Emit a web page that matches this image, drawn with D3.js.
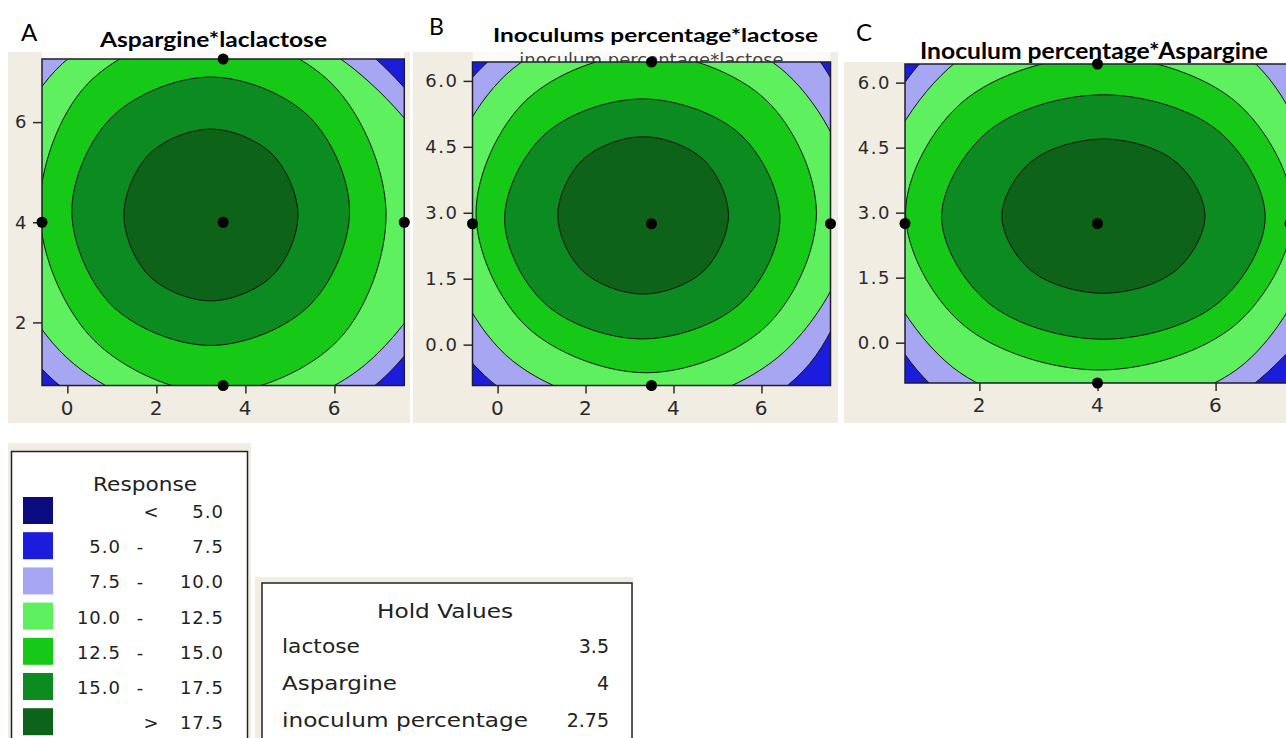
<!DOCTYPE html>
<html>
<head>
<meta charset="utf-8">
<script src="https://cdn.jsdelivr.net/npm/d3@7"></script>
<style>
  html, body { margin: 0; padding: 0; background: #ffffff; }
  svg { display: block; }
</style>
</head>
<body>
<svg id="chart" width="1286" height="738"></svg>
<script>
// ---- Response bands ----
const bandColors = ["#0b0b80", "#1c1cdc", "#a6a6f2", "#5ef05e", "#17c917", "#0c8c20", "#0d6418"];
const legendRows = [["", "<", "5.0"], ["5.0", "-", "7.5"], ["7.5", "-", "10.0"], ["10.0", "-", "12.5"],
                    ["12.5", "-", "15.0"], ["15.0", "-", "17.5"], ["", ">", "17.5"]];
const contourLevels = [7.5, 10.0, 12.5, 15.0, 17.5];

// ---- Hold values ----
const holdNames = ["lactose", "Aspargine", "inoculum percentage"];
const holdValues = ["3.5", "4", "2.75"];

// ---- Panel A: Aspargine (y) vs lactose (x) ----
const xDomainA = [-0.57, 7.57];
const yDomainA = [0.74, 7.26];
const xTicksA = [0, 2, 4, 6];
const yTicksA = [2, 4, 6];
const designA = [[3.5, 4], [-0.57, 4], [7.57, 4], [3.5, 0.74], [3.5, 7.26]];
// contour lines, one per level (points N, NE, E, SE, S, SW, W, NW)
const contoursA = [
  [[3.23, 8.64], [6.79, 7.37], [8.98, 4.20], [7.03, 0.83], [3.23, -0.43], [-0.44, 0.95], [-2.12, 4.20], [-0.59, 7.59]],
  [[3.23, 8.20], [6.44, 7.06], [8.62, 4.20], [6.67, 1.14], [3.23, 0.11], [-0.03, 1.31], [-1.60, 4.20], [-0.11, 7.17]],
  [[3.20, 7.81], [5.95, 6.76], [7.16, 4.20], [6.09, 1.65], [3.34, 0.59], [0.59, 1.65], [-0.62, 4.20], [0.45, 6.76]],
  [[3.22, 6.90], [5.43, 6.11], [6.34, 4.22], [5.43, 2.33], [3.22, 1.54], [1.01, 2.33], [0.10, 4.22], [1.01, 6.11]],
  [[3.22, 5.86], [4.60, 5.36], [5.18, 4.14], [4.60, 2.93], [3.22, 2.43], [1.84, 2.93], [1.27, 4.14], [1.84, 5.36]]
];

// ---- Panel B: inoculum percentage (y) vs lactose (x) ----
const xDomainB = [-0.57, 7.57];
const yDomainB = [-0.93, 6.43];
const xTicksB = [0, 2, 4, 6];
const yTicksB = [0, 1.5, 3, 4.5, 6];
const designB = [[3.5, 2.75], [-0.57, 2.75], [7.57, 2.75], [3.5, -0.93], [3.5, 6.43]];
const contoursB = [
  [[3.38, 7.86], [7.11, 6.70], [8.26, 2.97], [6.95, -0.60], [3.38, -2.15], [-0.30, -0.70], [-2.04, 2.97], [-0.15, 6.50]],
  [[3.38, 7.34], [6.57, 6.17], [8.11, 2.97], [6.51, -0.17], [3.38, -1.41], [0.18, -0.23], [-1.29, 2.97], [0.20, 6.15]],
  [[3.38, 6.62], [6.11, 5.56], [7.25, 2.99], [6.11, 0.42], [3.38, -0.64], [0.65, 0.42], [-0.49, 2.99], [0.65, 5.56]],
  [[3.29, 5.59], [5.51, 4.79], [6.42, 2.86], [5.51, 0.93], [3.29, 0.13], [1.08, 0.93], [0.16, 2.86], [1.08, 4.79]],
  [[3.31, 4.73], [4.68, 4.21], [5.25, 2.94], [4.68, 1.67], [3.31, 1.15], [1.94, 1.67], [1.37, 2.94], [1.94, 4.21]]
];

// ---- Panel C: inoculum percentage (y) vs Aspargine (x) ----
const xDomainC = [0.74, 7.26];
const yDomainC = [-0.93, 6.43];
const xTicksC = [2, 4, 6];
const yTicksC = [0, 1.5, 3, 4.5, 6];
const designC = [[4, 2.75], [0.74, 2.75], [7.26, 2.75], [4, -0.93], [4, 6.43]];
const contoursC = [
  [[4.03, 8.14], [7.04, 6.91], [8.43, 2.83], [6.74, -0.85], [4.03, -2.38], [1.21, -1.01], [-0.08, 2.83], [1.18, 6.71]],
  [[4.03, 7.68], [6.68, 6.43], [7.75, 2.83], [6.48, -0.49], [4.03, -1.55], [1.54, -0.56], [0.16, 2.83], [1.47, 6.32]],
  [[4.03, 6.61], [6.35, 5.55], [7.31, 2.99], [6.35, 0.43], [4.03, -0.63], [1.71, 0.43], [0.75, 2.99], [1.71, 5.55]],
  [[4.10, 5.72], [6.04, 4.89], [6.84, 2.90], [6.04, 0.91], [4.10, 0.08], [2.16, 0.91], [1.36, 2.90], [2.16, 4.89]],
  [[4.10, 4.70], [5.32, 4.18], [5.82, 2.92], [5.32, 1.66], [4.10, 1.14], [2.88, 1.66], [2.38, 2.92], [2.88, 4.18]]
];

// ---- drawing ----
const BEIGE = "#f1ede3";
const TICK_FONT = "'DejaVu Sans', Verdana, sans-serif";
const TITLE_FONT = "Lato, 'Open Sans', 'Liberation Sans', sans-serif";
const svg = d3.select("#chart");

const panels = [
  { key: "A", title: "Aspargine*laclactose", ghost: null,
    xDomain: xDomainA, yDomain: yDomainA, xTicks: xTicksA, yTicks: yTicksA, yFmt: d3.format("d"),
    contours: contoursA, design: designA,
    box: { left: 42, right: 404.3, top: 59, bottom: 385.5 }, bg: [8, 52, 402, 371],
    letter: { x: 21, y: 41, size: 24 }, head: { cx: 213.5, y: 47, w: 227, size: 20 } },
  { key: "B", title: "Inoculums percentage*lactose", ghost: "inoculum percentage*lactose",
    xDomain: xDomainB, yDomain: yDomainB, xTicks: xTicksB, yTicks: yTicksB, yFmt: d3.format(".1f"),
    contours: contoursB, design: designB,
    box: { left: 472.5, right: 830.5, top: 62, bottom: 385.5 }, bg: [413, 52, 425, 371],
    letter: { x: 429, y: 35, size: 23 }, head: { cx: 655.5, y: 42, w: 325, size: 19 } },
  { key: "C", title: "Inoculum percentage*Aspargine", ghost: null,
    xDomain: xDomainC, yDomain: yDomainC, xTicks: xTicksC, yTicks: yTicksC, yFmt: d3.format(".1f"),
    contours: contoursC, design: designC,
    box: { left: 905, right: 1290, top: 64, bottom: 383 }, bg: [844, 62, 442, 361],
    letter: { x: 856, y: 41, size: 24 }, head: { cx: 1094, y: 59, w: 348, size: 22 } }
];

const contourLine = d3.line().curve(d3.curveCatmullRomClosed.alpha(0.5));

panels.forEach(p => {
  const g = svg.append("g").attr("class", "panel-" + p.key);
  const b = p.box;
  const x = d3.scaleLinear().domain(p.xDomain).range([b.left, b.right]);
  const y = d3.scaleLinear().domain(p.yDomain).range([b.bottom, b.top]);

  // window background and white title strip above the plot
  g.append("rect").attr("x", p.bg[0]).attr("y", p.bg[1]).attr("width", p.bg[2]).attr("height", p.bg[3])
    .attr("fill", BEIGE);
  g.append("rect").attr("x", b.left).attr("y", p.bg[1]).attr("width", b.right - b.left)
    .attr("height", b.top - p.bg[1]).attr("fill", "#fbfaf7");

  // original plot heading, mostly hidden behind the plot area
  if (p.ghost) {
    g.append("text").attr("x", (b.left + b.right) / 2).attr("y", b.top + 4)
      .attr("text-anchor", "middle").attr("font-family", TICK_FONT).attr("font-size", 18)
      .attr("fill", "#444").text(p.ghost);
  }

  // contour bands, clipped to the plot area
  const clipId = "clip-" + p.key;
  g.append("clipPath").attr("id", clipId).append("rect")
    .attr("x", b.left).attr("y", b.top).attr("width", b.right - b.left).attr("height", b.bottom - b.top);
  const plot = g.append("g").attr("clip-path", `url(#${clipId})`);
  plot.append("rect").attr("x", b.left).attr("y", b.top).attr("width", b.right - b.left)
    .attr("height", b.bottom - b.top).attr("fill", bandColors[1]);
  contourLevels.forEach((lvl, i) => {
    plot.append("path")
      .attr("d", contourLine(p.contours[i].map(d => [x(d[0]), y(d[1])])))
      .attr("fill", bandColors[i + 2])
      .attr("stroke", "#111")
      .attr("stroke-width", 1);
  });
  g.append("rect").attr("x", b.left).attr("y", b.top).attr("width", b.right - b.left)
    .attr("height", b.bottom - b.top).attr("fill", "none").attr("stroke", "#1e1e2e").attr("stroke-width", 1.5);

  // axes
  const yAxis = g.append("g").attr("transform", `translate(${b.left},0)`)
    .call(d3.axisLeft(y).tickValues(p.yTicks).tickFormat(p.yFmt).tickSize(9).tickPadding(5));
  const xAxis = g.append("g").attr("transform", `translate(0,${b.bottom})`)
    .call(d3.axisBottom(x).tickValues(p.xTicks).tickFormat(d3.format("d")).tickSize(8).tickPadding(7));
  [yAxis, xAxis].forEach(ax => {
    ax.select(".domain").remove();
    ax.selectAll(".tick line").attr("stroke", "#2a2a2a").attr("stroke-width", 1.5);
    ax.selectAll(".tick text").attr("fill", "#2a2a2a").attr("font-family", TICK_FONT)
      .style("letter-spacing", "1.5px");
  });
  yAxis.selectAll(".tick text").attr("font-size", 18);
  xAxis.selectAll(".tick text").attr("font-size", 20);

  // design points
  g.append("g").selectAll("circle").data(p.design).join("circle")
    .attr("cx", d => x(d[0])).attr("cy", d => y(d[1])).attr("r", 5.5).attr("fill", "#000");

  // panel letter and title
  g.append("text").attr("x", p.letter.x).attr("y", p.letter.y).attr("font-family", TITLE_FONT)
    .attr("font-size", p.letter.size).attr("fill", "#000").text(p.key);
  g.append("text").attr("x", p.head.cx).attr("y", p.head.y).attr("text-anchor", "middle")
    .attr("font-family", TITLE_FONT).attr("font-weight", 700).attr("font-size", p.head.size)
    .attr("textLength", p.head.w).attr("lengthAdjust", "spacingAndGlyphs")
    .attr("fill", "#000").text(p.title);
});

// ---- Response legend ----
const lg = svg.append("g").attr("class", "legend");
lg.append("rect").attr("x", 8).attr("y", 443).attr("width", 243).attr("height", 300).attr("fill", BEIGE);
lg.append("rect").attr("x", 11.5).attr("y", 451.5).attr("width", 236).attr("height", 300)
  .attr("fill", "#ffffff").attr("stroke", "#222").attr("stroke-width", 1.5);
lg.append("text").attr("x", 145).attr("y", 491).attr("text-anchor", "middle")
  .attr("font-family", TICK_FONT).attr("font-size", 20).attr("fill", "#222")
  .attr("textLength", 104).attr("lengthAdjust", "spacingAndGlyphs").text("Response");
const rowY = i => 497 + i * 35.2;
lg.selectAll("rect.swatch").data(bandColors).join("rect").attr("class", "swatch")
  .attr("x", 23).attr("y", (d, i) => rowY(i)).attr("width", 30).attr("height", 27).attr("fill", d => d);
const rows = lg.selectAll("g.row").data(legendRows).join("g").attr("class", "row")
  .attr("transform", (d, i) => `translate(0,${rowY(i) + 21})`)
  .attr("font-family", TICK_FONT).attr("font-size", 18).attr("fill", "#222");
rows.append("text").attr("x", 120).attr("text-anchor", "end").style("letter-spacing", "1px")
  .attr("dx", 1).text(d => d[0]);
rows.append("text").attr("x", d => d[1] === "-" ? 140 : 151).attr("text-anchor", "middle").text(d => d[1]);
rows.append("text").attr("x", 223).attr("text-anchor", "end").style("letter-spacing", "1px")
  .attr("dx", 1).text(d => d[2]);

// ---- Hold values box ----
const hv = svg.append("g").attr("class", "hold");
hv.append("rect").attr("x", 255).attr("y", 577).attr("width", 378).attr("height", 170).attr("fill", BEIGE);
hv.append("rect").attr("x", 262).attr("y", 583).attr("width", 370).attr("height", 170)
  .attr("fill", "#ffffff").attr("stroke", "#222").attr("stroke-width", 1.5);
hv.append("text").attr("x", 445).attr("y", 618).attr("text-anchor", "middle")
  .attr("font-family", TICK_FONT).attr("font-size", 20).attr("fill", "#222")
  .attr("textLength", 136).attr("lengthAdjust", "spacingAndGlyphs").text("Hold Values");
const nameWidths = [78, 115, 246];
holdNames.forEach((n, i) => {
  const yy = [653, 690, 726.5][i];
  hv.append("text").attr("x", 282).attr("y", yy).attr("font-family", TICK_FONT).attr("font-size", 20)
    .attr("fill", "#222").attr("textLength", nameWidths[i]).attr("lengthAdjust", "spacingAndGlyphs").text(n);
  hv.append("text").attr("x", 609).attr("y", yy).attr("text-anchor", "end").attr("font-family", TICK_FONT)
    .attr("font-size", 19).attr("fill", "#222").text(holdValues[i]);
});
</script>
</body>
</html>
